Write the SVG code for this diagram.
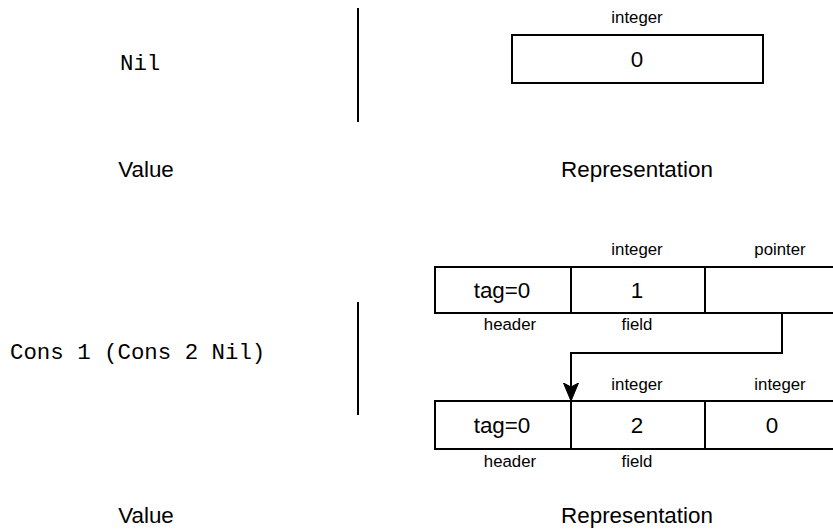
<svg xmlns="http://www.w3.org/2000/svg" width="833" height="529" viewBox="0 0 833 529">
  <style>
    .cell { fill: #ffffff; stroke: #000000; stroke-width: 2; }
    .rule { stroke: #000000; stroke-width: 2; fill: none; }
    .mono { font-family: "Liberation Mono", "Courier New", monospace; font-size: 22.4px; fill: #000; }
    .big { font-family: "Liberation Sans", Arial, sans-serif; font-size: 22.4px; fill: #000; text-anchor: middle; dominant-baseline: central; }
    .small { font-family: "Liberation Sans", Arial, sans-serif; font-size: 16.8px; fill: #000; text-anchor: middle; dominant-baseline: central; }
  </style>
  <defs>
    <marker id="classic" markerUnits="userSpaceOnUse" markerWidth="20" markerHeight="20" viewBox="0 0 20 20" refX="18" refY="10" orient="auto">
      <path d="M0,2.5 L18,10 L0,17.5 L4,10 Z" fill="#000" stroke="#000" stroke-width="1"/>
    </marker>
  </defs>

  <rect width="833" height="529" fill="#ffffff"/>

  <!-- Nil: value and representation -->
  <g id="nil-value">
    <text class="mono" x="120" y="64" dominant-baseline="central">Nil</text>
  </g>
  <g id="nil-divider">
    <line class="rule" x1="358" y1="8" x2="358" y2="122"/>
  </g>
  <g id="nil-repr">
    <text class="small" x="637" y="17">integer</text>
    <rect class="cell" x="512" y="35" width="251" height="48"/>
    <text class="big" x="637" y="59">0</text>
  </g>
  <g id="caption-top">
    <text class="big" x="146" y="169">Value</text>
    <text class="big" x="637" y="169">Representation</text>
  </g>

  <!-- Cons 1 (Cons 2 Nil): value and representation -->
  <g id="cons-value">
    <text class="mono" x="10" y="353" dominant-baseline="central">Cons 1 (Cons 2 Nil)</text>
  </g>
  <g id="cons-divider">
    <line class="rule" x1="358" y1="302" x2="358" y2="415"/>
  </g>

  <g id="block1">
    <text class="small" x="637" y="249">integer</text>
    <text class="small" x="780" y="249">pointer</text>
    <rect class="cell" x="435" y="267" width="136" height="46"/>
    <rect class="cell" x="571" y="267" width="134" height="46"/>
    <rect class="cell" x="705" y="267" width="136" height="46"/>
    <text class="big" x="502" y="290">tag=0</text>
    <text class="big" x="637" y="290">1</text>
    <text class="small" x="510" y="324">header</text>
    <text class="small" x="637" y="324">field</text>
  </g>

  <g id="block2">
    <text class="small" x="637" y="384">integer</text>
    <text class="small" x="780" y="384">integer</text>
    <rect class="cell" x="435" y="401" width="136" height="48"/>
    <rect class="cell" x="571" y="401" width="134" height="48"/>
    <rect class="cell" x="705" y="401" width="136" height="48"/>
    <text class="big" x="502" y="425">tag=0</text>
    <text class="big" x="637" y="425">2</text>
    <text class="big" x="772" y="425">0</text>
    <text class="small" x="510" y="461">header</text>
    <text class="small" x="637" y="461">field</text>
  </g>

  <g id="caption-bottom">
    <text class="big" x="146" y="515">Value</text>
    <text class="big" x="637" y="515">Representation</text>
  </g>

  <g id="connectors">
    <path class="rule" d="M782,313 V353 H571 V401" marker-end="url(#classic)"/>
  </g>
</svg>
